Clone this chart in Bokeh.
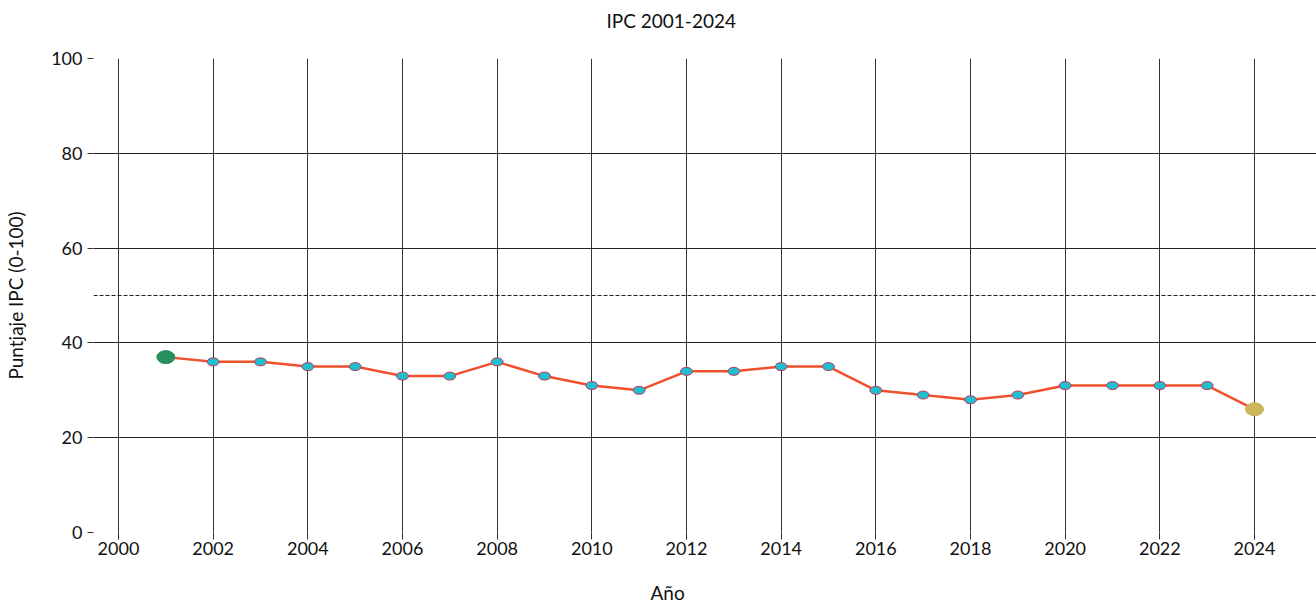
from bokeh.plotting import figure
from bokeh.models import Range1d, Span, FixedTicker, Title
from bokeh.embed import file_html
from bokeh.resources import INLINE

years = [2001, 2002, 2003, 2004, 2005, 2006, 2007, 2008, 2009, 2010, 2011, 2012,
         2013, 2014, 2015, 2016, 2017, 2018, 2019, 2020, 2021, 2022, 2023, 2024]
scores = [37, 36, 36, 35, 35, 33, 33, 36, 33, 31, 30, 34,
          34, 35, 35, 30, 29, 28, 29, 31, 31, 31, 31, 26]
x_ticks = [2000, 2002, 2004, 2006, 2008, 2010, 2012, 2014, 2016, 2018, 2020, 2022, 2024]
y_ticks = [0, 20, 40, 60, 80, 100]
threshold = 50
title_text = "IPC 2001-2024"
x_label = "Año"
y_label = "Puntjaje IPC (0-100)"

FONT = "Lato"

p = figure(width=1316, height=607, output_backend="svg", toolbar_location=None,
           x_range=Range1d(1999.472, 2025.31), y_range=Range1d(0, 100),
           y_axis_label=y_label,
           min_border_left=93, min_border_right=0, min_border_top=58, min_border_bottom=75)

p.outline_line_color = None
p.background_fill_color = "white"
p.border_fill_color = "white"

for ax in (p.xaxis[0], p.yaxis[0]):
    ax.axis_line_color = None
    ax.major_tick_line_color = "#333333"
    ax.major_tick_in = 0
    ax.minor_tick_line_color = None
    ax.major_label_text_font = FONT
    ax.major_label_text_font_size = "18px"
    ax.major_label_text_color = "#111111"
    ax.axis_label_text_font = FONT
    ax.axis_label_text_font_size = "19px"
    ax.axis_label_text_font_style = "normal"
    ax.axis_label_text_color = "#111111"

p.xaxis.ticker = FixedTicker(ticks=x_ticks)
p.yaxis.ticker = FixedTicker(ticks=y_ticks)
p.xaxis.major_tick_out = 7
p.yaxis.major_tick_out = 6
p.xaxis.major_label_standoff = 2
p.yaxis.major_label_standoff = 5
p.yaxis.axis_label_standoff = 21

p.xgrid.ticker = FixedTicker(ticks=x_ticks)
p.ygrid.ticker = FixedTicker(ticks=y_ticks)
p.xgrid.grid_line_color = "#333333"
p.ygrid.grid_line_color = "#222222"
p.xgrid.grid_line_width = 1
p.ygrid.grid_line_width = 1

p.add_layout(Span(location=threshold, dimension="width", line_color="#222222",
                  line_width=1, line_dash="4 2"))

p.line(years, scores, line_color="#f0502e", line_width=2.5)

p.ellipse(years[1:-1], scores[1:-1], width=12, height=8, width_units="screen",
          height_units="screen", fill_color="#1fbfcf", line_color="#c8365e", line_width=1)
p.ellipse([years[0]], [scores[0]], width=18, height=13, width_units="screen",
          height_units="screen", fill_color="#268f5c", line_color="#268f5c")
p.ellipse([years[-1]], [scores[-1]], width=18, height=13, width_units="screen",
          height_units="screen", fill_color="#cbb65a", line_color="#cbb65a")

# Chart title (above) and x-axis title (below), positioned with offsets
p.add_layout(Title(text=title_text + "\n", align="left", offset=513, vertical_align="bottom",
                   standoff=8, text_font=FONT, text_font_size="19px",
                   text_font_style="normal", text_color="#111111"), "above")
p.add_layout(Title(text="\n" + x_label, align="left", offset=557, vertical_align="top",
                   standoff=0, text_font=FONT, text_font_size="19px",
                   text_font_style="normal", text_color="#111111"), "below")

open("out.html", "w").write(file_html(p, INLINE))
